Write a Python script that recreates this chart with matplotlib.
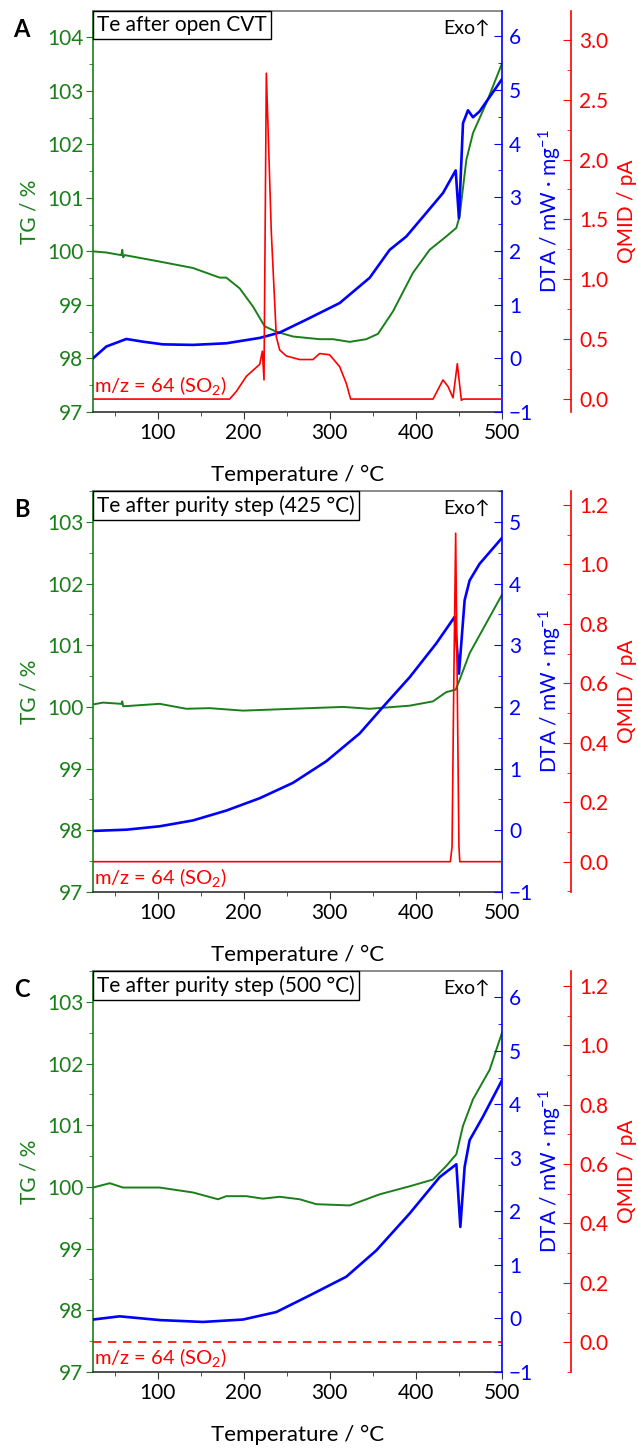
import matplotlib.pyplot as plt
from matplotlib.ticker import MultipleLocator

plt.rcParams['font.family'] = ['Lato', 'DejaVu Sans']
plt.rcParams['mathtext.fontset'] = 'custom'
plt.rcParams['mathtext.rm'] = 'Lato'
plt.rcParams['mathtext.it'] = 'Lato:italic'

fs = 15
tgColor = '#1a7f1a'
dtaColor = '#0000ff'
msColor = '#ff0000'

# --- A: Te after open CVT ---
tA_tg = [25, 40, 57.9, 59, 60, 62, 102.4, 141.1, 172.1, 179.8, 195.3, 210.8, 224.4, 237.9, 257.3,
         288.2, 303.7, 323.1, 342.4, 356, 373.4, 396.6, 416, 435.3, 447, 450.8, 458.6, 466.3, 481.8, 500]
tgA = [100.0, 99.98, 99.93, 100.03, 99.89, 99.93, 99.81, 99.69, 99.51, 99.51, 99.31, 98.97, 98.60,
       98.50, 98.41, 98.36, 98.36, 98.31, 98.36, 98.46, 98.88, 99.60, 100.03, 100.28, 100.44, 100.66,
       101.71, 102.21, 102.77, 103.51]
tA_dta = [25, 40.5, 63.7, 83, 106.3, 141, 179.8, 218.6, 241.8, 272.7, 311.5, 346.3, 369.5, 388.9,
          412.1, 431.5, 446.2, 450, 454.7, 460.5, 466.3, 474, 500]
dtaA = [0.0, 0.22, 0.36, 0.31, 0.26, 0.25, 0.28, 0.38, 0.48, 0.72, 1.03, 1.50, 2.02, 2.27, 2.71,
        3.08, 3.50, 2.61, 4.38, 4.62, 4.49, 4.60, 5.20]
tA_ms = [25, 183.7, 191.5, 203.1, 218.6, 221.7, 223.6, 226.3, 232.1, 237.9, 241.8, 249.5, 265, 280.5,
         288.2, 299.8, 311.5, 319.2, 324.2, 419.9, 431.5, 437.3, 443.1, 448.1, 452.8, 455, 500]
msA = [0, 0, 0.064, 0.19, 0.29, 0.40, 0.16, 2.72, 1.39, 0.52, 0.41, 0.36, 0.33, 0.33, 0.38, 0.37,
       0.27, 0.13, 0, 0, 0.16, 0.105, 0.01, 0.295, -0.01, 0, 0]

# --- B: Te after purity step (425 °C) ---
tB_tg = [25, 36.6, 58, 59, 60, 102.4, 133.4, 160.5, 199.2, 257.3, 315.3, 346.3, 392.7, 419.8, 435.3,
         446.2, 450.8, 462.4, 481.8, 500]
tgB = [100.04, 100.07, 100.05, 100.09, 100.01, 100.05, 99.97, 99.98, 99.94, 99.97, 100.0, 99.97,
       100.02, 100.09, 100.24, 100.28, 100.44, 100.87, 101.36, 101.82]
tB_dta = [25, 63.7, 102.4, 141.1, 179.8, 218.6, 257.3, 296, 334.7, 361.8, 392.7, 423.7, 445, 450,
          456.6, 462.4, 474, 500]
dtaB = [-0.01, 0.01, 0.065, 0.16, 0.32, 0.52, 0.77, 1.12, 1.57, 2.00, 2.48, 3.03, 3.46, 2.54, 3.73,
        4.05, 4.32, 4.74]
tB_ms = [25, 440, 442, 444, 446.2, 448, 450, 451, 500]
msB = [0, 0, 0.05, 0.6, 1.105, 0.6, 0.05, 0, 0]

# --- C: Te after purity step (500 °C) ---
tC_tg = [25, 44.4, 59.8, 102.4, 141.1, 170.2, 179.8, 203.1, 222.4, 241.8, 265, 284.4, 323.1, 357.9,
         392.7, 419.8, 435.3, 447, 454.7, 466.3, 485.7, 500]
tgC = [99.99, 100.06, 99.99, 99.99, 99.91, 99.80, 99.85, 99.85, 99.81, 99.84, 99.80, 99.72, 99.70,
       99.88, 100.01, 100.12, 100.34, 100.53, 100.99, 101.42, 101.90, 102.50]
tC_dta = [25, 56, 102.4, 152.7, 199.2, 237.9, 276.6, 319.2, 354, 392.7, 427.6, 447, 451.6, 456.6,
          462.4, 477.9, 500]
dtaC = [-0.02, 0.04, -0.03, -0.065, -0.02, 0.12, 0.43, 0.78, 1.27, 1.96, 2.64, 2.88, 1.71, 2.83,
        3.33, 3.77, 4.45]
tC_ms = [25, 500]
msC = [0, 0]

fig = plt.figure(figsize=(6.38, 14.48), dpi=100)


def panel(rect, letter, title, t_tg, tg, t_dta, dta, t_ms, ms, tglim, tgmax, dtalim, dtamax,
          mslim, msstep, ms_ls, ms_text_y):
    ax = fig.add_axes(rect)
    ax2 = ax.twinx()
    ax3 = ax.twinx()
    ax3.spines['right'].set_position(('axes', 1.169))

    ax.plot(t_tg, tg, color=tgColor, lw=1.4)
    ax2.plot(t_dta, dta, color=dtaColor, lw=1.9)
    ax3.plot(t_ms, ms, color=msColor, lw=1.2, ls=ms_ls)

    ax.set_xlim(25, 500)
    ax.set_ylim(*tglim)
    ax2.set_ylim(*dtalim)
    ax3.set_ylim(*mslim)

    ax.xaxis.set_major_locator(MultipleLocator(100))
    ax.xaxis.set_minor_locator(MultipleLocator(50))
    ax.set_yticks(range(97, tgmax + 1))
    ax.yaxis.set_minor_locator(MultipleLocator(0.5))
    ax2.set_yticks(range(-1, dtamax + 1))
    ax2.yaxis.set_minor_locator(MultipleLocator(0.5))
    ax3.yaxis.set_major_locator(MultipleLocator(msstep))
    ax3.yaxis.set_minor_locator(MultipleLocator(msstep / 2))
    ax3.yaxis.set_major_formatter(lambda v, p: '%.1f' % v)

    ax.tick_params(axis='x', which='both', direction='out', colors='#333333', labelcolor='black',
                   labelsize=fs, length=5, pad=3, top=False)
    ax.tick_params(axis='x', which='minor', length=3)
    ax.tick_params(axis='y', which='both', direction='out', colors=tgColor, labelsize=fs, length=5, pad=2)
    ax.tick_params(axis='y', which='minor', length=3)
    ax2.tick_params(axis='y', which='both', direction='in', colors=dtaColor, labelsize=fs, length=6, pad=5)
    ax2.tick_params(axis='y', which='minor', length=3)
    ax3.tick_params(axis='y', which='both', direction='in', colors=msColor, labelsize=fs, length=6, pad=6)
    ax3.tick_params(axis='y', which='minor', length=3)

    ax.spines['left'].set_color(tgColor)
    ax.spines['bottom'].set_color('#333333')
    ax.spines['top'].set_color('#777777')
    ax.spines['right'].set_visible(False)
    for a in (ax2, ax3):
        a.spines['left'].set_visible(False)
        a.spines['top'].set_visible(False)
        a.spines['bottom'].set_visible(False)
    ax2.spines['right'].set_color(dtaColor)
    ax3.spines['right'].set_color(msColor)
    for s in ('left', 'bottom', 'top'):
        ax.spines[s].set_linewidth(1.2)
    ax2.spines['right'].set_linewidth(1.2)
    ax3.spines['right'].set_linewidth(1.2)

    ax.set_ylabel('TG / %', color=tgColor, fontsize=fs)
    ax.yaxis.set_label_coords(-0.132, 0.5)
    ax2.set_ylabel('DTA / mW · mg$^{-1}$', color=dtaColor, fontsize=fs)
    ax2.yaxis.set_label_coords(1.086, 0.5)
    ax3.set_ylabel('QMID / pA', color=msColor, fontsize=fs)
    ax3.yaxis.set_label_coords(1.28, 0.5)
    ax.set_xlabel('Temperature / °C', fontsize=fs + 1, va='center')
    ax.xaxis.set_label_coords(0.5, -0.158)

    ax.annotate(title, xy=(0, 1), xycoords='axes fraction', xytext=(3.0, -3.0),
                textcoords='offset points', ha='left', va='top', fontsize=fs,
                bbox=dict(boxstyle='square,pad=0.2', fc='white', ec='black', lw=1.0))
    ax.text(0.971, 0.957, 'Exo↑', transform=ax.transAxes, ha='right', va='center', fontsize=fs - 1)
    ax.text(0.003, ms_text_y, 'm/z = 64 (SO$_2$)', transform=ax.transAxes, color=msColor,
            ha='left', va='center', fontsize=fs - 0.5)
    fig.text(rect[0] - 0.112, rect[1] + rect[3] - 0.0125, letter, fontsize=fs + 2, fontweight='bold',
             ha='center', va='center')


left = 93 / 638
width = (502 - 93) / 638
height = (412 - 11) / 1448

panel([left, 1 - 412 / 1448, width, height], 'A', 'Te after open CVT',
      tA_tg, tgA, tA_dta, dtaA, tA_ms, msA, (97, 104.49), 104, (-1, 6.47), 6,
      (-0.108, 3.24), 0.5, '-', 0.065)
panel([left, 1 - 892 / 1448, width, height], 'B', 'Te after purity step (425 °C)',
      tB_tg, tgB, tB_dta, dtaB, tB_ms, msB, (97, 103.5), 103, (-1, 5.5), 5,
      (-0.102, 1.247), 0.2, '-', 0.036)
panel([left, 1 - 1372 / 1448, width, height], 'C', 'Te after purity step (500 °C)',
      tC_tg, tgC, tC_dta, dtaC, tC_ms, msC, (97, 103.5), 103, (-1, 6.49), 6,
      (-0.1, 1.25), 0.2, (0, (5, 4)), 0.036)

fig.savefig('out.png', dpi=100)
